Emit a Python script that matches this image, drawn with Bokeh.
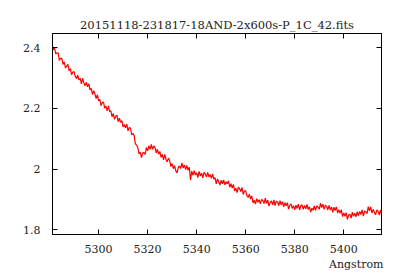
import numpy as np
from bokeh.plotting import figure
from bokeh.models import LinearAxis, FixedTicker, Title, Range1d
from bokeh.embed import file_html
from bokeh.resources import INLINE

title_text = "20151118-231817-18AND-2x600s-P_1C_42.fits"
x_label = "Angstrom"
x_ticks = [5300, 5320, 5340, 5360, 5380, 5400]
y_ticks = [1.8, 2.0, 2.2, 2.4]
y_tick_labels = ["1.8", "2", "2.2", "2.4"]

wave_start = 5281.0
wave_step = 0.5
flux = [
    2.412, 2.393, 2.401, 2.380, 2.383, 2.383, 2.358, 2.365, 2.365, 2.345,
    2.353, 2.333, 2.340, 2.345, 2.324, 2.331, 2.311, 2.320, 2.321, 2.305,
    2.298, 2.310, 2.294, 2.299, 2.281, 2.300, 2.284, 2.275, 2.286, 2.271,
    2.281, 2.261, 2.266, 2.246, 2.258, 2.248, 2.232, 2.245, 2.225, 2.230,
    2.209, 2.219, 2.221, 2.201, 2.207, 2.192, 2.208, 2.190, 2.192, 2.172,
    2.183, 2.164, 2.174, 2.177, 2.156, 2.168, 2.154, 2.160, 2.139, 2.147,
    2.136, 2.148, 2.126, 2.137, 2.135, 2.113, 2.117, 2.111, 2.083, 2.079,
    2.071, 2.050, 2.055, 2.038, 2.053, 2.054, 2.048, 2.071, 2.060, 2.076,
    2.065, 2.081, 2.065, 2.076, 2.071, 2.053, 2.065, 2.049, 2.058, 2.038,
    2.048, 2.030, 2.048, 2.031, 2.024, 2.036, 2.028, 2.008, 2.018, 2.001,
    2.011, 1.994, 1.987, 2.005, 2.010, 2.002, 2.020, 2.003, 2.013, 1.998,
    2.012, 1.996, 2.006, 1.963, 1.993, 1.979, 1.995, 1.980, 1.988, 1.972,
    1.992, 1.977, 1.986, 1.971, 1.989, 1.983, 1.974, 1.989, 1.974, 1.982,
    1.969, 1.984, 1.967, 1.972, 1.951, 1.967, 1.958, 1.947, 1.963, 1.951,
    1.964, 1.948, 1.958, 1.951, 1.961, 1.940, 1.952, 1.937, 1.949, 1.927,
    1.937, 1.922, 1.940, 1.935, 1.926, 1.939, 1.916, 1.928, 1.928, 1.912,
    1.906, 1.917, 1.901, 1.911, 1.888, 1.897, 1.884, 1.902, 1.890, 1.899,
    1.885, 1.900, 1.896, 1.886, 1.904, 1.887, 1.897, 1.878, 1.890, 1.895,
    1.882, 1.898, 1.879, 1.894, 1.891, 1.879, 1.896, 1.882, 1.892, 1.875,
    1.889, 1.879, 1.889, 1.868, 1.880, 1.885, 1.870, 1.879, 1.865, 1.881,
    1.870, 1.884, 1.865, 1.878, 1.882, 1.867, 1.880, 1.869, 1.883, 1.866,
    1.876, 1.858, 1.871, 1.864, 1.878, 1.864, 1.878, 1.875, 1.867, 1.887,
    1.873, 1.884, 1.867, 1.881, 1.877, 1.865, 1.880, 1.865, 1.875, 1.857,
    1.874, 1.863, 1.875, 1.855, 1.866, 1.854, 1.866, 1.843, 1.855, 1.844,
    1.856, 1.834, 1.848, 1.851, 1.838, 1.858, 1.844, 1.854, 1.842, 1.859,
    1.846, 1.860, 1.850, 1.865, 1.845, 1.861, 1.859, 1.853, 1.876, 1.862,
    1.875, 1.855, 1.867, 1.857, 1.849, 1.865, 1.861, 1.848, 1.865, 1.849,
]
wave = wave_start + wave_step * np.arange(len(flux))

FONT = "DejaVu Serif"
TXT = "#222222"

p = figure(width=400, height=280, output_backend="svg", toolbar_location=None,
           x_range=Range1d(5281.2, 5415.4), y_range=Range1d(1.784, 2.447),
           min_border_left=52, min_border_right=19, min_border_top=33,
           min_border_bottom=46, background_fill_color="white",
           border_fill_color="white")
p.grid.visible = False
p.outline_line_color = "black"

p.title.text = title_text
p.title.align = "center"
p.title.text_font = FONT
p.title.text_font_size = "11.5px"
p.title.text_font_style = "normal"
p.title.text_color = TXT
p.title.standoff = 3

p.line(wave, flux, line_color="#ff0000", line_width=1.2)

def style(ax, ticks):
    ax.ticker = FixedTicker(ticks=ticks)
    ax.axis_line_color = "black"
    ax.major_tick_in = 5
    ax.major_tick_out = 0
    ax.major_tick_line_color = "black"
    ax.minor_tick_line_color = None
    ax.major_label_text_font = FONT
    ax.major_label_text_font_size = "11px"
    ax.major_label_text_color = TXT

def mirror(ax, ticks):
    ax.ticker = FixedTicker(ticks=[], minor_ticks=ticks)
    ax.axis_line_color = "black"
    ax.major_tick_line_color = None
    ax.minor_tick_in = 5
    ax.minor_tick_out = 0
    ax.minor_tick_line_color = "black"
    ax.major_label_standoff = 0

style(p.xaxis[0], x_ticks)
p.xaxis[0].major_label_standoff = 10
style(p.yaxis[0], y_ticks)
p.yaxis[0].major_label_standoff = 12
p.yaxis[0].major_label_overrides = {t: s for t, s in zip(y_ticks, y_tick_labels)}

top = LinearAxis()
mirror(top, x_ticks)
p.add_layout(top, "above")
right = LinearAxis()
mirror(right, y_ticks)
p.add_layout(right, "right")

p.add_layout(Title(text=x_label, align="right", text_font=FONT,
                   text_font_size="11px", text_font_style="normal",
                   text_color=TXT, standoff=0, offset=-2), "below")

open("out.html", "w").write(file_html(p, INLINE))
